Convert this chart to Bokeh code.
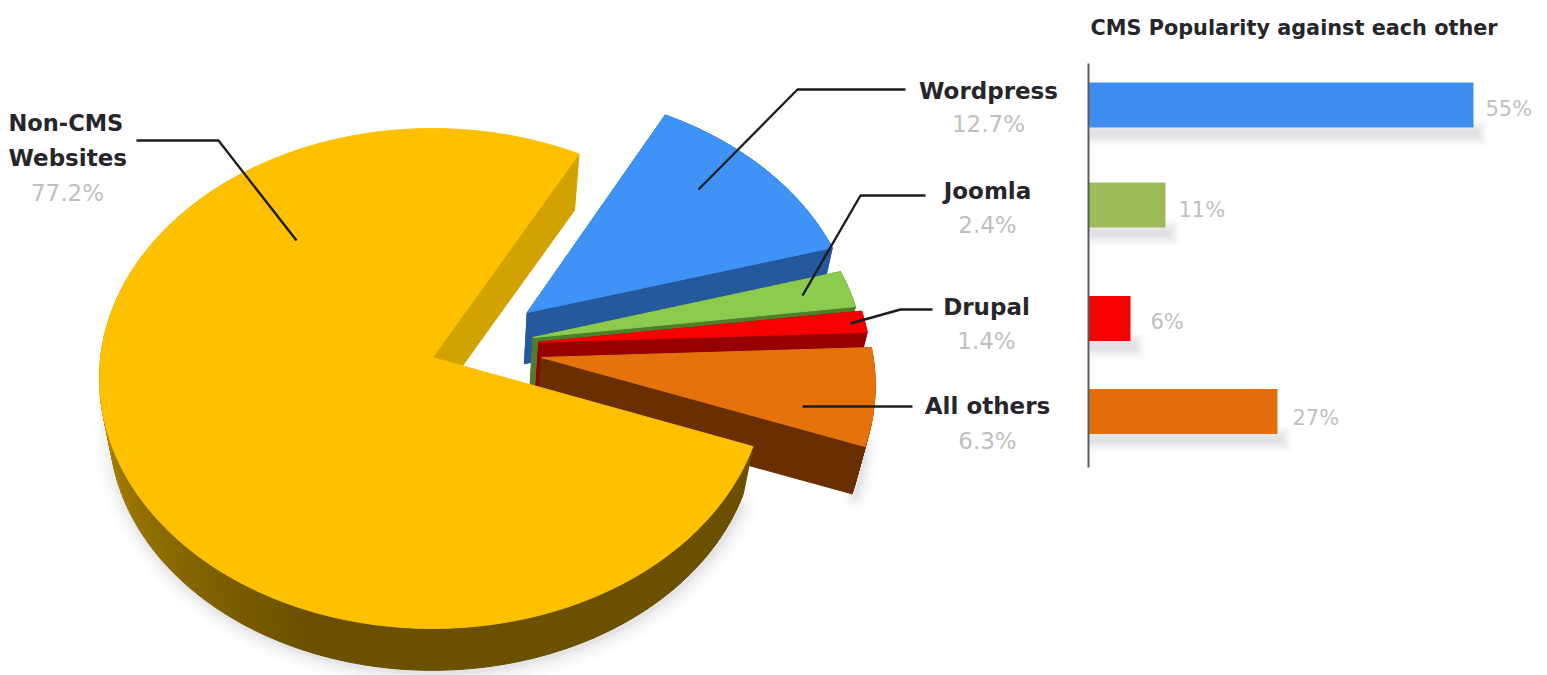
import math

from bokeh.core.properties import value
from bokeh.embed import file_html
from bokeh.models import Range1d
from bokeh.plotting import figure
from bokeh.resources import INLINE

# Share of all websites
pie_names = ["Wordpress", "Joomla", "Drupal", "All others", "Non-CMS Websites"]
pie_shares = [12.7, 2.4, 1.4, 6.3, 77.2]

# Share among CMS platforms only
bar_names = ["Wordpress", "Joomla", "Drupal", "All others"]
bar_shares = [55, 11, 6, 27]

TOP = {"Wordpress": "#3f93f7", "Joomla": "#8ccb4d", "Drupal": "#f60000",
       "All others": "#e6720c", "Non-CMS Websites": "#ffc000"}
SIDE = {"Wordpress": "#25599d", "Joomla": "#4f7d2c", "Drupal": "#980000",
        "All others": "#692f00", "Non-CMS Websites": "#d2a200"}
BAR = {"Wordpress": "#3e8ef2", "Joomla": "#9dbb57", "Drupal": "#f60000", "All others": "#e46f0a"}

# How far each slice is pulled out of the pie, on the unit disk
EXPLODE = {"Wordpress": (0.29, -0.184), "Joomla": (0.305, -0.081), "Drupal": (0.322, -0.062),
           "All others": (0.328, 0.0), "Non-CMS Websites": (0.0, 0.0)}

START_ANGLE = -61.7
CX, CY, RX, A, C = 432.0, 357.0, 331.8, 218.2, -0.084
DEPTH, BASE_SCALE = 50.0, 0.97


def project(u, v):
    """Perspective view of a point on the unit disk (page pixels, y down)."""
    d = 1 + C * v
    return CX + RX * u / d, (A * v + CY) / d


def base(x, y):
    return CX + (x - CX) * BASE_SCALE, CY + (y - CY) * BASE_SCALE + DEPTH


def mix(c1, c2, t):
    a = [int(c1[i:i + 2], 16) for i in (1, 3, 5)]
    b = [int(c2[i:i + 2], 16) for i in (1, 3, 5)]
    return "#%02x%02x%02x" % tuple(round(p + (q - p) * t) for p, q in zip(a, b))


p = figure(width=1547, height=675, x_range=Range1d(0, 1547), y_range=Range1d(675, 0),
           output_backend="svg", toolbar_location=None, min_border=0,
           outline_line_color=None, background_fill_color="white", border_fill_color="white")
p.axis.visible = False
p.grid.visible = False
# Percent scale for the bars: 0 % sits on the vertical rule, 7 px per point
BAR_X0, BAR_PX = 1088.0, 7.0
p.extra_x_ranges["pct"] = Range1d(-BAR_X0 / BAR_PX, (1547 - BAR_X0) / BAR_PX)

# Slices, angles accumulated from the shares
slices = []
angle = START_ANGLE
for name, share in zip(pie_names, pie_shares):
    sweep = share * 3.6
    slices.append((name, angle, angle + sweep))
    angle += sweep


def rim_points(name, a0, a1, step=1.0):
    ou, ov = EXPLODE[name]
    n = max(2, int(abs(a1 - a0) / step) + 1)
    rads = [math.radians(a0 + (a1 - a0) * i / (n - 1)) for i in range(n)]
    return [project(ou + math.cos(r), ov + math.sin(r)) for r in rads]


# Soft shadow below the outer edge of the large slice and the pulled-out orange one
for w, alpha in ((34, .018), (26, .022), (18, .03), (11, .04), (5, .05)):
    nm, a0, a1 = slices[4]
    pts = [base(*q) for q in rim_points(nm, a0 + 3, 205)]
    p.line([q[0] + 2 for q in pts], [q[1] + 2 for q in pts], line_width=w, line_color="#5b6470",
           line_alpha=alpha, line_cap="round")
    nm, a0, a1 = slices[3]
    pts = [base(*q) for q in rim_points(nm, a1 - 12, a1)]
    p.line([q[0] + 3 for q in pts], [q[1] + 3 for q in pts], line_width=w * .8, line_color="#5b6470",
           line_alpha=alpha, line_cap="round")

for name, a0, a1 in slices:
    ou, ov = EXPLODE[name]
    apex = project(ou, ov)
    edge = rim_points(name, a0, a1)
    low = [base(*q) for q in edge]
    low_apex = base(*apex)
    large = name == "Non-CMS Websites"
    # Cut walls; the near one of the large slice faces away from the viewer
    walls = [(edge[-1], low[-1])] if large else [(edge[0], low[0]), (edge[-1], low[-1])]
    for q, r in walls:
        p.patch([apex[0], q[0], r[0], low_apex[0]], [apex[1], q[1], r[1], low_apex[1]],
                fill_color=SIDE[name], line_color=SIDE[name], line_width=1)
    # Outer wall, shaded by the direction it faces
    for i in range(len(edge) - 1):
        mid = a0 + (a1 - a0) * (i + .5) / (len(edge) - 1)
        if large and 90 < mid < 250:
            col = mix("#cfa000", "#6a5000", min(1, max(0, (205 - mid) / 95)))
        elif large:
            col = "#6b5000"
        else:
            col = SIDE[name]
        xs = [edge[i][0], edge[i + 1][0], low[i + 1][0], low[i][0]]
        ys = [edge[i][1], edge[i + 1][1], low[i + 1][1], low[i][1]]
        if not large or mid < 230:
            p.patch(xs, ys, fill_color=col, line_color=col, line_width=1)
    # Top face
    p.patch([apex[0]] + [q[0] for q in edge], [apex[1]] + [q[1] for q in edge],
            fill_color=TOP[name], line_color=TOP[name], line_width=1)

# Leader lines
leaders = [
    ([136, 218, 296], [140, 140, 240]),
    ([905, 797, 698], [89, 89, 189]),
    ([925, 860, 802], [195, 195, 295]),
    ([932, 900, 850], [309, 309, 323]),
    ([912, 802], [406, 406]),
]
for xs, ys in leaders:
    p.line(xs, ys, line_color="#1d1d22", line_width=2.4)

# Bars with their blurred drop shadows
bar_mid = [104.5, 204.5, 318, 411]
BAR_H = 45
for nm, v, ym in zip(bar_names, bar_shares, bar_mid):
    for grow, alpha in ((10, .022), (8, .03), (6, .035), (4, .04), (2, .045), (0, .05)):
        p.quad(left=1 / BAR_PX, right=v + (5 + grow) / BAR_PX,
               top=ym + BAR_H / 2 + 2 - grow, bottom=ym + BAR_H / 2 + 9 + grow,
               x_range_name="pct", fill_color="#6f7a88", fill_alpha=alpha, line_color=None)
    p.quad(left=0, right=v, top=ym - BAR_H / 2, bottom=ym + BAR_H / 2,
           x_range_name="pct", fill_color=BAR[nm], line_color=None)
p.segment(x0=[0], x1=[0], y0=[63], y1=[467], x_range_name="pct", line_color="#5a5a5a", line_width=2)

BOLD = dict(text_font=value("DejaVu Sans"), text_font_style="bold", text_color="#26262a")
LIGHT = dict(text_font=value("DejaVu Sans"), text_color="#bfbfbf", text_font_size="23px")


def label(x, y, s, align="center", **kw):
    p.text([x], [y], text=[s], text_align=align, text_baseline="middle", **kw)


label(8, 122, "Non-CMS", "left", text_font_size="22.5px", **BOLD)
label(8, 157, "Websites", "left", text_font_size="23px", **BOLD)
label(67, 192, f"{pie_shares[4]}%", **LIGHT)
pie_label_pos = [(988, 90, 123), (987, 190, 224), (986, 306, 340), (987, 405, 440)]
for nm, sh, (x, y1, y2) in zip(pie_names, pie_shares, pie_label_pos):
    label(x, y1, nm, text_font_size="23px", **BOLD)
    label(x, y2, f"{sh}%", **LIGHT)

label(1090, 27, "CMS Popularity against each other", "left", text_font_size="20.8px", **BOLD)
bar_label_pos = [(1485, 108), (1178, 209), (1150, 321), (1292, 417)]
for v, (x, y) in zip(bar_shares, bar_label_pos):
    label(x, y, f"{v}%", "left", text_font=value("DejaVu Sans"), text_color="#bfbfbf", text_font_size="21px")

open("out.html", "w").write(file_html(p, INLINE))
